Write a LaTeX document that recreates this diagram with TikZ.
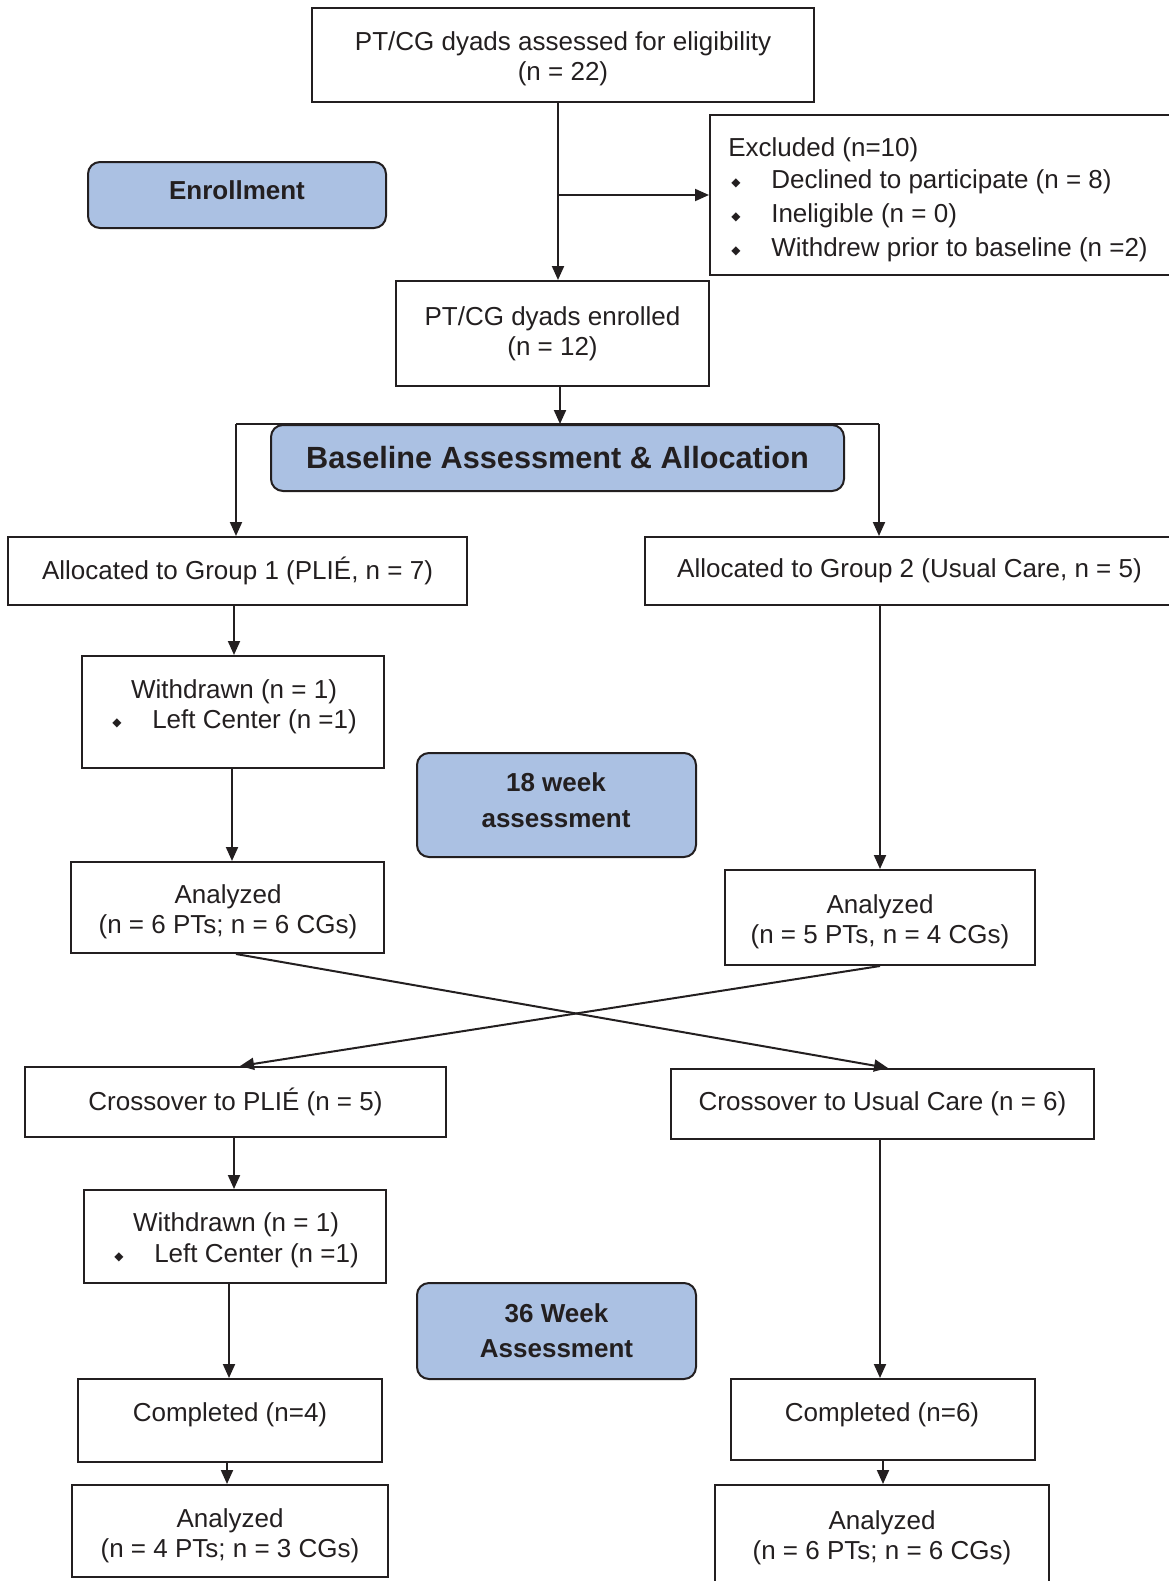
\documentclass[tikz,border=0pt]{standalone}
\usepackage{fontspec}
\setmainfont{Liberation Sans}
\newfontfamily\symfont{DejaVu Sans}
\usetikzlibrary{arrows.meta}
\definecolor{boxblue}{HTML}{ABC1E3}
\definecolor{ink}{HTML}{231F20}
% box from corners (x1,y1)-(x2,y2) in px units
\newcommand\bx[6][]{\node[box,#1, minimum width={(#4-#2)*0.75pt}, minimum height={(#5-#3)*0.75pt}] (#6) at ({(#2+#4)/2},{(#3+#5)/2})}
\begin{document}
\begin{tikzpicture}[x=0.75pt,y=-0.75pt,
  every node/.style={font=\fontsize{19.5}{22.5}\selectfont, text=ink},
  box/.style={draw=ink, line width=1.5pt, inner sep=0pt, align=center},
  bluebox/.style={box, fill=boxblue, rounded corners=9pt, font=\fontsize{19.5}{27}\selectfont\bfseries},
  bold/.style={font=\fontsize{19.5}{27}\selectfont\bfseries, align=center},
  arr/.style={draw=ink, line width=1.5pt, -{Triangle[length=10.5pt,width=9pt]}},
  ln/.style={draw=ink, line width=1.5pt},
  txt/.style={anchor=west, inner sep=0pt},
  ctr/.style={align=center, inner sep=0pt},
  bul/.style={font=\symfont\fontsize{9}{9}\selectfont, inner sep=0pt}
]
\useasboundingbox (0,0) rectangle (1168,1581);

% boxes
\bx{312}{8}{814}{102}{elig} {};
\node[ctr] (eligt) at (563,59) {PT/CG dyads assessed for eligibility\\(n = 22)};
\bx[bluebox]{88}{162}{386}{228}{enroll} {};
\node[bold] (enrollt) at (237,190) {Enrollment};
\bx{710}{115}{1174}{275}{excl} {};
\node[txt] (ex0) at (728,150) {Excluded (n=10)};
\node[bul] (exb1) at (736,183) {◆};
\node[txt] (ex1) at (771,182) {Declined to participate (n = 8)};
\node[bul] (exb2) at (736,217) {◆};
\node[txt] (ex2) at (771,216) {Ineligible (n = 0)};
\node[bul] (exb3) at (736,251) {◆};
\node[txt] (ex3) at (771,250) {Withdrew prior to baseline (n =2)};

\bx{396}{281}{709}{386}{enrolled} {PT/CG dyads enrolled\\(n = 12)};
\bx[bluebox, font=\fontsize{23}{27}\selectfont\bfseries]{271}{425}{844}{491}{base} {Baseline Assessment \& Allocation};

\bx{8}{537}{467}{605}{g1} {Allocated to Group 1 (PLIÉ, n = 7)};
\bx{645}{537}{1174}{605}{g2} {Allocated to Group 2 (Usual Care, n = 5)};

\bx{82}{656}{384}{768}{wd1} {};
\node (wd1a) at (234,692) {Withdrawn (n = 1)};
\node[bul] (wd1b) at (117,723) {◆};
\node[txt] (wd1c) at (152,722) {Left Center (n =1)};

\bx[bluebox]{417}{753}{696}{857}{w18} {};
\node[bold] (w18t) at (556,800) {18 week\\assessment};

\bx{71}{862}{384}{953}{an1} {};
\node[ctr] (an1t) at (228,912) {Analyzed\\(n = 6 PTs; n = 6 CGs)};
\bx{725}{870}{1035}{965}{an2} {};
\node[ctr] (an2t) at (880,921.5) {Analyzed\\(n = 5 PTs, n = 4 CGs)};

\bx{25}{1067}{446}{1137}{cp} {Crossover to PLIÉ (n = 5)};
\bx{671}{1069}{1094}{1139}{cu} {Crossover to Usual Care (n = 6)};

\bx{84}{1190}{386}{1283}{wd2} {};
\node (wd2a) at (236,1225) {Withdrawn (n = 1)};
\node[bul] (wd2b) at (119,1257) {◆};
\node[txt] (wd2c) at (154,1256) {Left Center (n =1)};

\bx[bluebox, font=\fontsize{19.5}{26}\selectfont\bfseries]{417}{1283}{696}{1379}{w36} {36 Week\\Assessment};

\bx{78}{1379}{382}{1462}{c1} {};
\node (c1t) at (230,1415) {Completed (n=4)};
\bx{731}{1379}{1035}{1460}{c2} {};
\node (c2t) at (882,1415) {Completed (n=6)};

\bx{72}{1485}{388}{1577}{an3} {};
\node[ctr] (an3t) at (230,1536) {Analyzed\\(n = 4 PTs; n = 3 CGs)};
\bx{715}{1485}{1049}{1595}{an4} {};
\node[ctr] (an4t) at (882,1538) {Analyzed\\(n = 6 PTs; n = 6 CGs)};

% guide coordinates
\coordinate (x558) at (558,0);
\coordinate (br) at (558,195);
\coordinate (x560) at (560,0);
\coordinate (xl) at (236,0);
\coordinate (xr) at (879,0);
\coordinate (x234) at (234,0);
\coordinate (x232) at (232,0);
\coordinate (x880) at (880,0);
\coordinate (x888) at (888,0);
\coordinate (x240) at (240,0);
\coordinate (x229) at (229,0);
\coordinate (x227) at (227,0);
\coordinate (x883) at (883,0);

% connectors
\draw[arr] (elig.south -| x558) -- (enrolled.north -| x558);
\draw[arr] (br) -- (br -| excl.west);
\draw[arr] (enrolled.south -| x560) -- (base.north -| x560);
\draw[ln] (base.north -| xl) -- (base.north -| xr);
\draw[arr] (base.north -| xl) -- (g1.north -| xl);
\draw[arr] (base.north -| xr) -- (g2.north -| xr);
\draw[arr] (g1.south -| x234) -- (wd1.north -| x234);
\draw[arr] (wd1.south -| x232) -- (an1.north -| x232);
\draw[arr] (g2.south -| x880) -- (an2.north -| x880);
\draw[arr] (an1.south -| xl) -- (cu.north -| x888);
\draw[arr] (an2.south -| x880) -- (cp.north -| x240);
\draw[arr] (cp.south -| x234) -- (wd2.north -| x234);
\draw[arr] (wd2.south -| x229) -- (c1.north -| x229);
\draw[arr] (cu.south -| x880) -- (c2.north -| x880);
\draw[arr] (c1.south -| x227) -- (an3.north -| x227);
\draw[arr] (c2.south -| x883) -- (an4.north -| x883);
\end{tikzpicture}
\end{document}
